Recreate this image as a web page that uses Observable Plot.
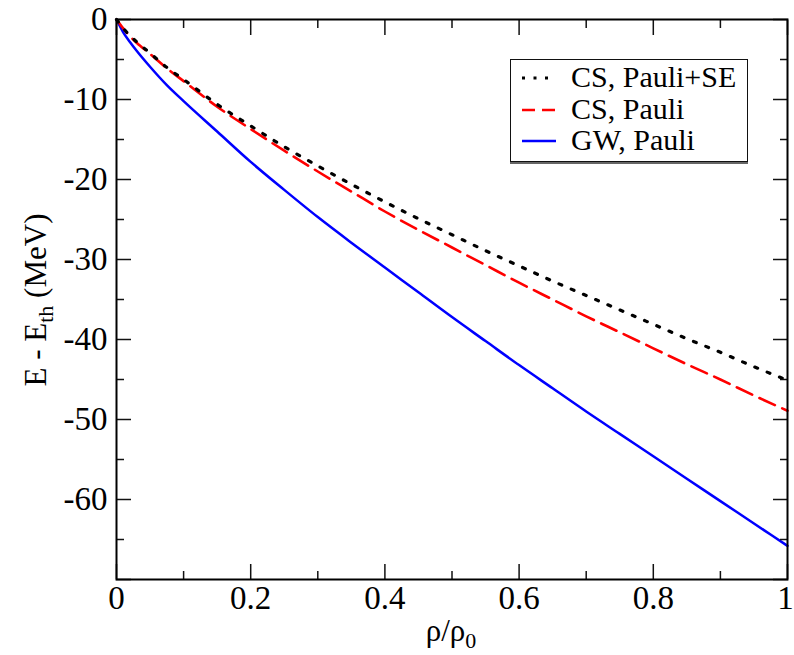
<!DOCTYPE html>
<html><head><meta charset="utf-8">
<script src="https://cdn.jsdelivr.net/npm/d3@7"></script>
<script src="https://cdn.jsdelivr.net/npm/@observablehq/plot@0.6"></script>
<style>
body{margin:0;background:#fff}
#wrap{position:relative;width:794px;height:655px;font-family:'Liberation Serif',serif}
#wrap svg text{font-family:'Liberation Serif',serif}
#legend{position:absolute;left:510px;top:59px;width:236px;height:101px;border:1.5px solid #111;background:#fff;box-shadow:0 2px 0 #666}
.row{position:absolute;left:0;height:30px;width:236px}
.row svg{position:absolute;left:9px;top:0}
.row span{position:absolute;left:60px;top:-1px;font-family:'Liberation Serif',serif;font-size:30px;line-height:30px;white-space:nowrap}
</style>
</head><body><div id="wrap"></div>
<script>
// density rho/rho0
const rho = [0,0.01,0.02,0.03,0.05,0.075,0.1,0.15,0.2,0.25,0.3,0.35,0.4,0.45,0.5,0.55,0.6,0.65,0.7,0.75,0.8,0.85,0.9,0.95,1.0];
// CS, Pauli+SE (black dotted)
const csPauliSE = [0,-1.1,-2.0,-2.8,-4.2,-6.0,-7.5,-10.6,-13.3,-15.9,-18.3,-20.6,-22.8,-24.9,-26.9,-28.9,-30.8,-32.7,-34.5,-36.3,-38.1,-39.9,-41.6,-43.4,-45.1];
// CS, Pauli (red dashed)
const csPauli = [0,-1.1,-2.1,-2.9,-4.3,-6.1,-7.7,-10.9,-13.7,-16.4,-19.0,-21.5,-24.0,-26.3,-28.5,-30.7,-32.9,-35.0,-37.1,-39.1,-41.1,-43.1,-45.0,-47.0,-48.9];
// GW, Pauli (blue solid)
const gwPauli = [0,-1.6,-2.8,-3.9,-5.9,-8.2,-10.2,-14.0,-17.8,-21.3,-24.7,-27.9,-31.0,-34.1,-37.2,-40.2,-43.2,-46.1,-49.0,-51.8,-54.6,-57.4,-60.2,-63.0,-65.8];

const seriesNames = ["CS, Pauli+SE","CS, Pauli","GW, Pauli"];
const xMajor = [0,0.2,0.4,0.6,0.8,1];
const xLabels = [0,0.2,0.4,0.6,0.8];
const xLastLabel = [1];
const xMinor = [0.1,0.3,0.5,0.7,0.9];
const yMajor = [0,-10,-20,-30,-40,-50,-60,-70];
const yLabels = [0,-10,-20,-30,-40,-50,-60];
const yMinor = [-5,-15,-25,-35,-45,-55,-65];

const FONT = "Liberation Serif";
const mk = (ys) => rho.map((r,i)=>({x:r,y:ys[i]}));
const fmt = d => String(d);
const tickCol = "#111";
const tk = (fn, data, anchor, size) => fn(data, {anchor, tickSize:size, fill:"none", stroke:tickCol, strokeWidth:1.5, label:null});

const plot = Plot.plot({
  width: 794, height: 655,
  marginLeft: 116, marginRight: 7, marginTop: 19, marginBottom: 76,
  style: {fontFamily: FONT, fontSize: "32px", color: "black", background: "white", overflow: "visible"},
  x: {domain: [0,1], axis: null},
  y: {domain: [-70,0], axis: null},
  marks: [
    Plot.line(mk(gwPauli), {x:"x", y:"y", stroke:"#0000ff", strokeWidth:2.5, curve:"monotone-x"}),
    Plot.line(mk(csPauli), {x:"x", y:"y", stroke:"#ff0000", strokeWidth:2.6, strokeDasharray:"17 8", curve:"monotone-x"}),
    Plot.line(mk(csPauliSE), {x:"x", y:"y", stroke:"#000", strokeWidth:3.2, strokeDasharray:"3 10.3", curve:"monotone-x"}),
    tk(Plot.axisX, xMajor, "bottom", -15),
    tk(Plot.axisX, xMinor, "bottom", -8),
    tk(Plot.axisX, xMajor, "top", -15),
    tk(Plot.axisX, xMinor, "top", -8),
    tk(Plot.axisY, yMajor, "left", -15),
    tk(Plot.axisY, yMinor, "left", -8),
    tk(Plot.axisY, yMajor, "right", -15),
    tk(Plot.axisY, yMinor, "right", -8),
    Plot.axisX(xLabels, {anchor:"bottom", tickSize:0, tickPadding:6, tickFormat:fmt, fontSize:33, fontFamily:FONT, fill:"black", label:null}),
    Plot.axisX(xLastLabel, {anchor:"bottom", tickSize:0, tickPadding:6, tickFormat:fmt, fontSize:33, fontFamily:FONT, fill:"black", label:null, dx:-2}),
    Plot.axisY(yLabels, {anchor:"left", tickSize:0, tickPadding:9, tickFormat:fmt, fontSize:33, fontFamily:FONT, fill:"black", label:null}),
    Plot.frame({stroke:"black", strokeWidth:2})
  ]
});
const wrap = document.getElementById("wrap");
wrap.appendChild(plot);

const svg = d3.select(plot);
// y-axis label
const yl = svg.append("text")
  .attr("transform","translate(46,300) rotate(-90)")
  .attr("text-anchor","middle")
  .attr("font-size",31).attr("fill","black")
  .attr("font-family",FONT);
yl.append("tspan").text("E - E");
yl.append("tspan").attr("font-size",22).attr("dy",7).text("th");
yl.append("tspan").attr("dy",-7).text(" (MeV)");
// x-axis label
const xl = svg.append("text")
  .attr("x",451).attr("y",641)
  .attr("text-anchor","middle")
  .attr("font-size",31).attr("fill","black")
  .attr("font-family",FONT);
xl.append("tspan").text("ρ/ρ");
xl.append("tspan").attr("font-size",22).attr("dy",7).text("0");

// legend
const legend = document.createElement("div");
legend.id = "legend";
const styles = [
  {stroke:"#000", dash:"3 8.5", w:3.2},
  {stroke:"#ff0000", dash:"13 7", w:2.6},
  {stroke:"#0000ff", dash:null, w:2.5}
];
seriesNames.forEach((name,i)=>{
  const row = document.createElement("div");
  row.className = "row";
  row.style.top = (3 + i*31.7) + "px";
  const s = styles[i];
  row.innerHTML = `<svg width="40" height="30"><line x1="2" x2="36" y1="15" y2="15" stroke="${s.stroke}" stroke-width="${s.w}" ${s.dash?`stroke-dasharray="${s.dash}"`:""}/></svg><span>${name}</span>`;
  legend.appendChild(row);
});
wrap.appendChild(legend);
</script>
</body></html>
